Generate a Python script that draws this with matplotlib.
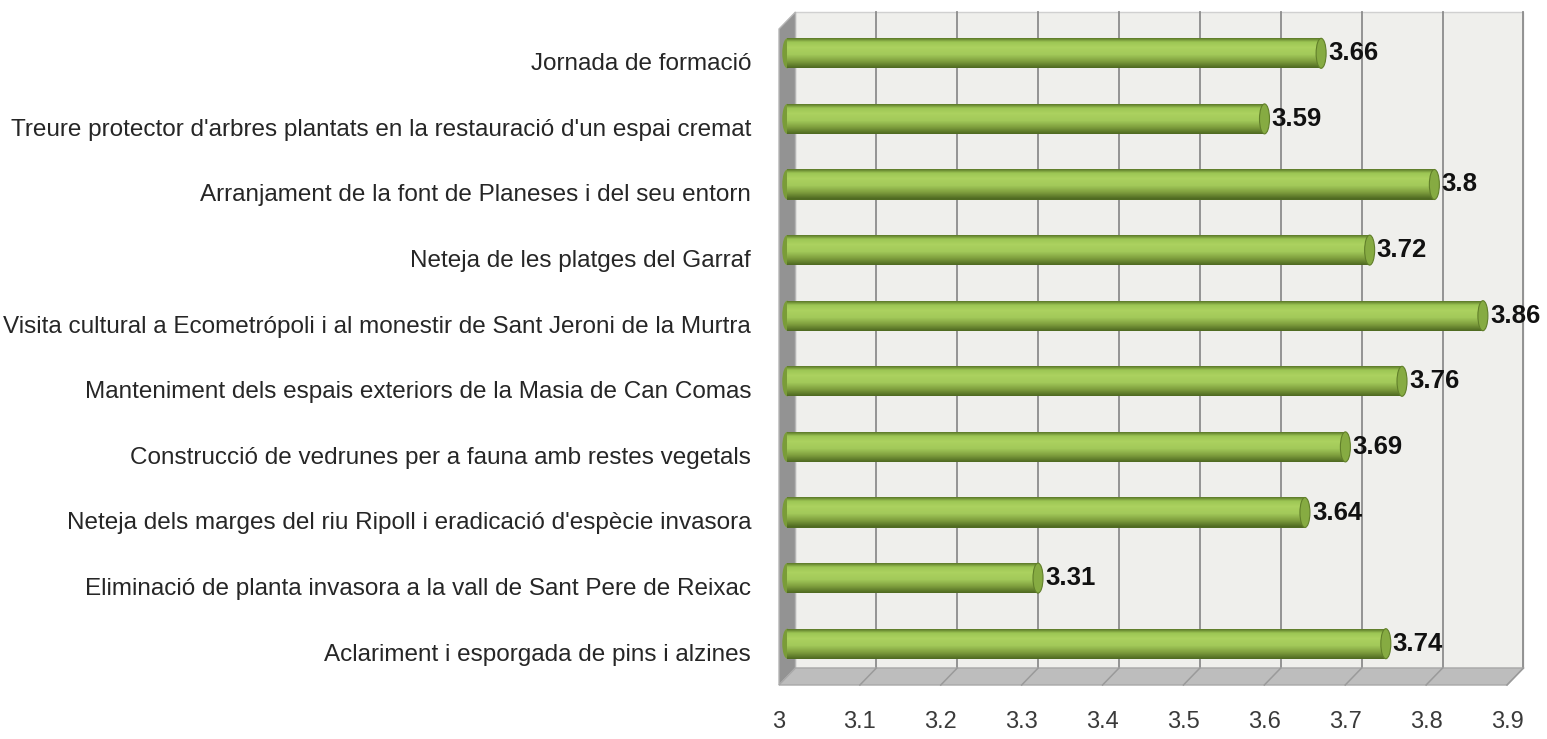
import numpy as np
import matplotlib
matplotlib.use("Agg")
import matplotlib.pyplot as plt
from matplotlib.patches import Polygon, Ellipse
from matplotlib.colors import LinearSegmentedColormap

plt.rcParams['font.family'] = ['Liberation Sans', 'DejaVu Sans']

# data, listed top to bottom as in the chart
activitats = [
    "Jornada de formació",
    "Treure protector d'arbres plantats en la restauració d'un espai cremat",
    "Arranjament de la font de Planeses i del seu entorn",
    "Neteja de les platges del Garraf",
    "Visita cultural a Ecometrópoli i al monestir de Sant Jeroni de la Murtra",
    "Manteniment dels espais exteriors de la Masia de Can Comas",
    "Construcció de vedrunes per a fauna amb restes vegetals",
    "Neteja dels marges del riu Ripoll i eradicació d'espècie invasora",
    "Eliminació de planta invasora a la vall de Sant Pere de Reixac",
    "Aclariment i esporgada de pins i alzines",
]
valors = [3.66, 3.59, 3.80, 3.72, 3.86, 3.76, 3.69, 3.64, 3.31, 3.74]
etiquetes = ["3.66", "3.59", "3.8", "3.72", "3.86", "3.76", "3.69", "3.64", "3.31", "3.74"]
xticks = [3.0, 3.1, 3.2, 3.3, 3.4, 3.5, 3.6, 3.7, 3.8, 3.9]
xticklabels = ["3", "3.1", "3.2", "3.3", "3.4", "3.5", "3.6", "3.7", "3.8", "3.9"]

W, H = 1547, 739
fig = plt.figure(figsize=(W / 100, H / 100), dpi=100)
fig.patch.set_facecolor("white")
# front plane of the 3d box, in pixels
L, R, T, B = 779, 1507, 29, 685
ax = fig.add_axes([L / W, (H - B) / H, (R - L) / W, (B - T) / H])
xmin, xmax = 3.0, 3.9
ymin, ymax = -0.5, len(valors) - 0.5
ax.set_xlim(xmin, xmax)
ax.set_ylim(ymin, ymax)
for s in ax.spines.values():
    s.set_visible(False)
ax.patch.set_alpha(0)

# depth offset (pixels -> data units)
px_x = (R - L) / (xmax - xmin)
px_y = (B - T) / (ymax - ymin)
dx = 16.5 / px_x
dy = 17.0 / px_y

# back wall
ax.add_patch(Polygon([(xmin + dx, ymin + dy), (xmax + dx, ymin + dy),
                      (xmax + dx, ymax + dy), (xmin + dx, ymax + dy)],
                     closed=True, facecolor="#efefec", edgecolor="#d0d0d0",
                     lw=1, zorder=1, clip_on=False))
# left wall
ax.add_patch(Polygon([(xmin, ymin), (xmin + dx, ymin + dy), (xmin + dx, ymax + dy),
                      (xmin, ymax)], closed=True, facecolor="#939393",
                     edgecolor="#b5b5b5", lw=1, zorder=1.5, clip_on=False))
# floor
ax.add_patch(Polygon([(xmin, ymin), (xmax, ymin), (xmax + dx, ymin + dy),
                      (xmin + dx, ymin + dy)], closed=True, facecolor="#bdbdbd",
                     edgecolor="#a8a8a8", lw=1, zorder=1.5, clip_on=False))
# grid lines on back wall + floor
for xv in xticks[1:]:
    ax.plot([xv + dx, xv + dx], [ymin + dy, ymax + dy], color="#8c8c8c",
            lw=1.3, zorder=1.2, clip_on=False)
    ax.plot([xv, xv + dx], [ymin, ymin + dy], color="#9a9a9a",
            lw=1.1, zorder=1.6, clip_on=False)

# cylinder bars built from thin horizontal strips
cmap = LinearSegmentedColormap.from_list(
    "cil", [(0, "#617f2c"), (0.12, "#9cc553"), (0.3, "#abd15f"), (0.55, "#a2c959"),
            (0.78, "#7f9f3e"), (1, "#506b22")])
n_str = 30
h = 30 / px_y
pos = np.arange(len(valors))[::-1]
v = np.array(valors)
yc = pos + dy / 2
x0 = xmin + dx / 2
cap = 5 / px_x
for yi in yc:
    ax.add_patch(Ellipse((x0, yi), 2 * cap, h, facecolor="#7a9c38",
                         edgecolor="none", zorder=2.5, clip_on=False))
for k in range(n_str):
    off = h / 2 - (k + 0.5) * h / n_str
    ax.barh(yc + off, v - xmin, left=x0, height=h / n_str * 1.05,
            color=cmap(k / (n_str - 1)), lw=0, zorder=3, clip_on=False)
for xi, yi in zip(v + dx / 2, yc):
    ax.add_patch(Ellipse((xi, yi), 2 * cap, h, facecolor="#86ab42",
                         edgecolor="#617f2a", lw=0.8, zorder=3.5, clip_on=False))

for xi, yi, t in zip(v + dx / 2, yc, etiquetes):
    ax.annotate(t, (xi, yi), xytext=(7, 0), textcoords="offset pixels",
                ha="left", va="center", fontsize=18.5, fontweight="bold",
                color="#111111", zorder=5)

ax.set_yticks(pos, activitats, fontsize=17.5, color="#262626")
ax.set_xticks(xticks, xticklabels, fontsize=17, color="#3a3a3a")
ax.tick_params(axis="y", length=0, pad=20)
ax.tick_params(axis="x", length=0, pad=19)

fig.savefig("out.png", dpi=100)
